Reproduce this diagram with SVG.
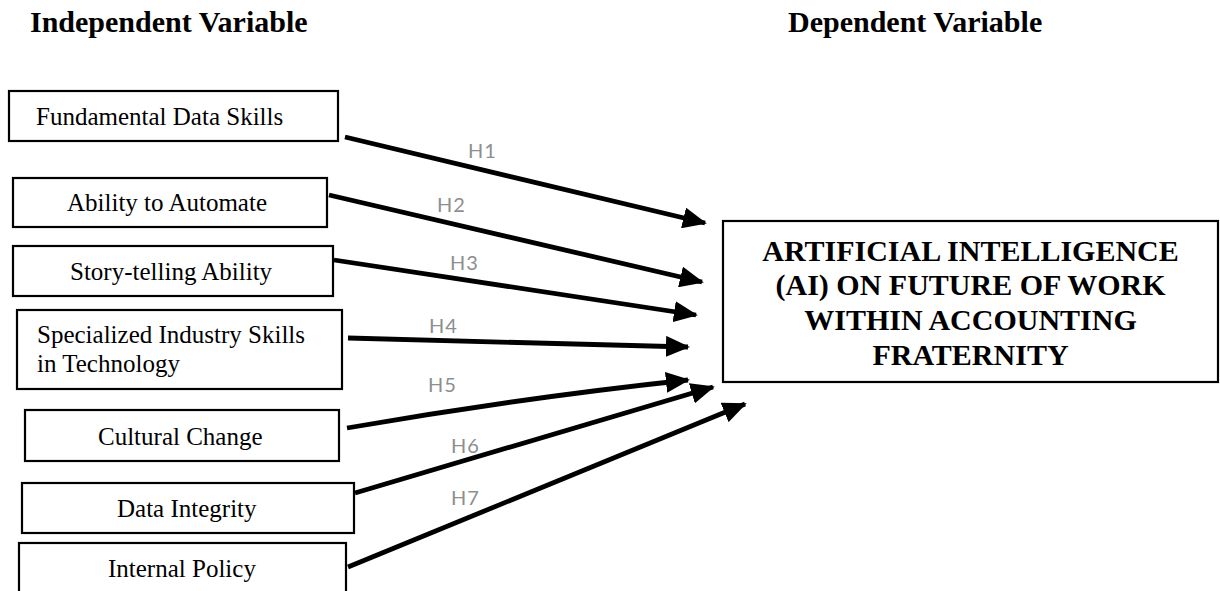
<svg xmlns="http://www.w3.org/2000/svg" width="1220" height="591" viewBox="0 0 1220 591">
<style>
.box{fill:#fff;stroke:#000;stroke-width:2.2}
.t{font-family:"Liberation Serif","Times New Roman",serif;font-size:25px;fill:#000}
.hd{font-family:"Liberation Serif","Times New Roman",serif;font-size:30px;font-weight:bold;fill:#000}
.dv{font-family:"Liberation Serif","Times New Roman",serif;font-size:30px;font-weight:bold;fill:#000;text-anchor:middle}
.h{font-family:Lato,"Open Sans",sans-serif;font-size:20px;letter-spacing:1px;fill:#8e8e8e}
.ar{stroke:#000;stroke-width:4.8;fill:none;marker-end:url(#ah)}
</style>
<defs>
<marker id="ah" markerWidth="5" markerHeight="4.4" refX="4.6" refY="2.2" orient="auto" markerUnits="strokeWidth">
<path d="M0,0 L5,2.2 L0,4.4 Z" fill="#000"/>
</marker>
</defs>
<rect width="1220" height="591" fill="#fff"/>
<text class="hd" x="30" y="32">Independent Variable</text>
<text class="hd" x="788" y="32">Dependent Variable</text>

<g id="n1"><rect class="box" x="9" y="91" width="329" height="50"/><text class="t" x="36" y="125">Fundamental Data Skills</text></g>
<g id="n2"><rect class="box" x="13" y="178" width="314" height="49"/><text class="t" x="67" y="211">Ability to Automate</text></g>
<g id="n3"><rect class="box" x="13" y="246" width="320" height="50"/><text class="t" x="70" y="280">Story-telling Ability</text></g>
<g id="n4"><rect class="box" x="17" y="310" width="325" height="79"/><text class="t" x="37" y="343">Specialized Industry Skills</text><text class="t" x="37" y="372">in Technology</text></g>
<g id="n5"><rect class="box" x="25" y="410" width="314" height="51"/><text class="t" x="98" y="445">Cultural Change</text></g>
<g id="n6"><rect class="box" x="22" y="483" width="332" height="50"/><text class="t" x="117" y="517">Data Integrity</text></g>
<g id="n7"><rect class="box" x="19" y="543" width="327" height="60"/><text class="t" x="108" y="577">Internal Policy</text></g>
<g id="dep"><rect class="box" x="723" y="221" width="495" height="161"/>
<text class="dv" x="970.5" y="261">ARTIFICIAL INTELLIGENCE</text>
<text class="dv" x="970.5" y="295">(AI) ON FUTURE OF WORK</text>
<text class="dv" x="970.5" y="330">WITHIN ACCOUNTING</text>
<text class="dv" x="970.5" y="365">FRATERNITY</text>
</g>

<g id="connectors">
<line class="ar" x1="345" y1="137" x2="705" y2="223"/>
<line class="ar" x1="329" y1="195" x2="702" y2="282"/>
<line class="ar" x1="334" y1="260" x2="696" y2="315"/>
<line class="ar" x1="348" y1="338" x2="688" y2="347"/>
<path class="ar" d="M347,428 Q520,398 688,380"/>
<line class="ar" x1="355" y1="493" x2="713" y2="387"/>
<line class="ar" x1="348" y1="567" x2="745" y2="404"/>
</g>
<g id="labels">
<text class="h" x="468" y="158">H1</text>
<text class="h" x="437" y="212">H2</text>
<text class="h" x="450" y="270">H3</text>
<text class="h" x="429" y="333">H4</text>
<text class="h" x="428" y="392">H5</text>
<text class="h" x="451" y="453">H6</text>
<text class="h" x="451" y="505">H7</text>
</g>
</svg>
